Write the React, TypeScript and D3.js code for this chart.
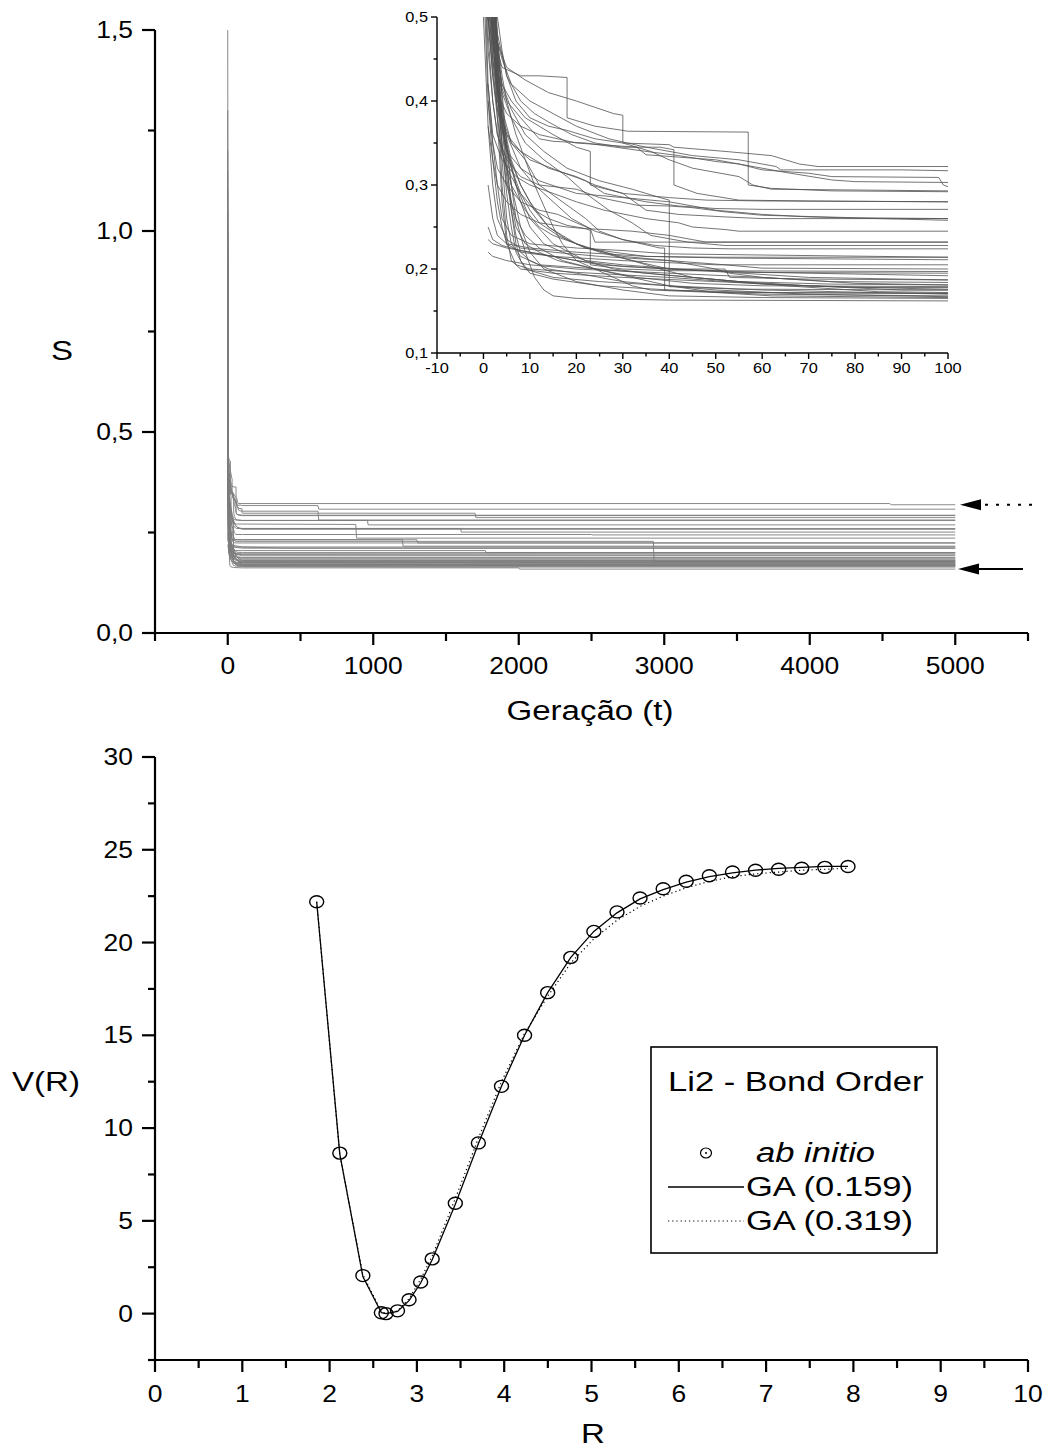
import React from 'react';
import * as d3 from 'd3';

// ---------------- Top chart data ----------------
const S_MAJOR = [0, 0.5, 1.0, 1.5];
const S_MINOR = [0.25, 0.75, 1.25];
const T_MAJOR = [0, 1000, 2000, 3000, 4000, 5000];
const T_MINOR = [-500, 500, 1500, 2500, 3500, 4500, 5500];
const IN_T_MAJOR = [-10, 0, 10, 20, 30, 40, 50, 60, 70, 80, 90, 100];
const IN_T_MINOR = [-5, 5, 15, 25, 35, 45, 55, 65, 75, 85, 95];
const IN_S_MAJOR = [0.1, 0.2, 0.3, 0.4, 0.5];
const IN_S_MINOR = [0.15, 0.25, 0.35, 0.45];
const T_END = 5000;
const ARROW_DASHED = 0.319;
const ARROW_SOLID = 0.159;

// each run: flat list of breakpoints t,S,t,S,...
const RUNS: number[][] = [
  [0,1.5, 1,0.7, 2,0.52, 3,0.47, 5,0.44, 9,0.425, 14,0.41, 20,0.4, 28,0.385, 30,0.383, 30,0.35, 40,0.348, 41,0.345, 52,0.34, 62,0.335, 65,0.33, 68,0.325, 72,0.322, 4550,0.322, 4560,0.319],
  [0,0.95, 1,0.62, 2,0.51, 3,0.46, 4,0.44, 8,0.43, 12,0.43, 18,0.428, 18,0.38, 24,0.37, 30,0.365, 31,0.364, 57,0.363, 57,0.3, 62,0.296, 75,0.293, 100,0.292],
  [0,0.85, 1,0.58, 2,0.49, 4,0.45, 6,0.42, 10,0.4, 15,0.385, 20,0.37, 27,0.355, 35,0.345, 45,0.335, 55,0.33, 60,0.325, 63,0.322, 64,0.318, 90,0.318, 100,0.317, 620,0.317, 625,0.308],
  [0,0.8, 1,0.55, 2,0.47, 3,0.43, 5,0.4, 8,0.38, 12,0.355, 15,0.352, 22,0.35, 35,0.34, 42,0.335, 50,0.328, 55,0.325, 60,0.318, 70,0.314, 75,0.31, 98,0.309, 99,0.3, 100,0.298, 1700,0.298, 1705,0.287],
  [0,0.75, 1,0.52, 2,0.45, 3,0.41, 5,0.385, 8,0.37, 12,0.36, 20,0.35, 33,0.345, 35,0.336, 50,0.33, 65,0.315, 75,0.306, 80,0.304, 100,0.303, 620,0.303, 625,0.281],
  [0,0.7, 1,0.5, 2,0.43, 3,0.39, 5,0.36, 8,0.34, 14,0.32, 20,0.31, 24,0.3, 30,0.29, 40,0.285, 48,0.282, 60,0.281, 100,0.28, 960,0.28, 965,0.269],
  [0,0.9, 1,0.6, 2,0.48, 3,0.42, 4,0.38, 6,0.35, 10,0.33, 17,0.315, 22,0.305, 26,0.29, 35,0.28, 42,0.275, 50,0.272, 60,0.271, 100,0.271, 880,0.27, 885,0.236],
  [0,1.1, 1,0.66, 2,0.5, 3,0.42, 4,0.37, 5,0.34, 8,0.32, 12,0.305, 20,0.29, 30,0.285, 40,0.28, 50,0.27, 60,0.265, 70,0.262, 85,0.26, 100,0.258],
  [0,0.65, 1,0.48, 2,0.4, 3,0.36, 5,0.33, 8,0.31, 12,0.3, 20,0.295, 25,0.285, 33,0.276, 40,0.275, 45,0.273, 52,0.268, 60,0.264, 80,0.261, 100,0.26, 1600,0.26, 1605,0.251],
  [0,0.6, 1,0.42, 2,0.36, 4,0.33, 7,0.31, 10,0.3, 15,0.29, 20,0.28, 26,0.27, 35,0.26, 42,0.255, 45,0.25, 52,0.247, 55,0.245, 100,0.245, 2500,0.245, 2505,0.244],
  [0,0.55, 1,0.4, 2,0.35, 3,0.32, 5,0.3, 8,0.28, 12,0.27, 16,0.265, 20,0.255, 23,0.248, 24,0.232, 35,0.232, 100,0.232, 1200,0.232, 1205,0.216],
  [0,0.5, 1,0.37, 2,0.33, 3,0.3, 5,0.28, 8,0.265, 12,0.255, 18,0.25, 22,0.248, 23,0.246, 23,0.205, 30,0.2, 40,0.198, 100,0.197],
  [1,0.42, 2,0.35, 3,0.3, 4,0.26, 6,0.24, 10,0.23, 20,0.225, 30,0.222, 40,0.218, 100,0.214, 400,0.211],
  [1,0.4, 2,0.33, 3,0.28, 4,0.25, 5,0.23, 8,0.22, 15,0.215, 30,0.21, 50,0.205, 100,0.205, 1770,0.205, 1775,0.2],
  [1,0.37, 2,0.3, 3,0.26, 5,0.235, 8,0.225, 15,0.22, 25,0.215, 40,0.21, 52,0.205, 60,0.201, 100,0.2],
  [1,0.3, 2,0.26, 3,0.24, 5,0.23, 10,0.225, 20,0.22, 35,0.215, 52,0.213, 100,0.211],
  [1,0.25, 2,0.235, 4,0.228, 8,0.222, 15,0.215, 25,0.205, 40,0.2, 60,0.196, 100,0.192],
  [1,0.235, 2,0.23, 5,0.225, 10,0.22, 20,0.21, 30,0.203, 50,0.197, 70,0.19, 100,0.187],
  [1,0.22, 2,0.215, 5,0.21, 10,0.205, 20,0.2, 40,0.195, 60,0.19, 80,0.183, 100,0.181],
  [0,1.0, 1,0.7, 2,0.55, 3,0.42, 4,0.3, 5,0.24, 6,0.21, 8,0.2, 15,0.195, 30,0.19, 50,0.185, 70,0.18, 90,0.175, 100,0.175, 3000,0.174],
  [0,0.9, 1,0.68, 2,0.5, 3,0.38, 4,0.28, 5,0.23, 7,0.205, 10,0.2, 20,0.196, 40,0.19, 60,0.182, 80,0.178, 100,0.178],
  [0,1.2, 1,0.8, 2,0.6, 3,0.45, 4,0.33, 5,0.26, 6,0.23, 8,0.215, 12,0.205, 25,0.2, 45,0.19, 65,0.18, 85,0.173, 100,0.172],
  [0,0.85, 1,0.62, 2,0.52, 3,0.44, 4,0.35, 5,0.29, 6,0.25, 7,0.22, 9,0.2, 15,0.19, 25,0.185, 40,0.18, 60,0.175, 100,0.17, 2200,0.169],
  [0,1.3, 1,0.75, 2,0.58, 3,0.48, 4,0.4, 5,0.33, 6,0.27, 7,0.23, 8,0.21, 10,0.195, 15,0.188, 25,0.18, 40,0.175, 60,0.17, 100,0.168],
  [0,0.95, 1,0.66, 2,0.54, 3,0.46, 4,0.38, 6,0.3, 8,0.25, 10,0.22, 13,0.2, 20,0.185, 30,0.175, 40,0.168, 60,0.166, 100,0.165, 1400,0.164],
  [0,1.05, 1,0.72, 2,0.56, 3,0.47, 4,0.41, 5,0.35, 6,0.3, 7,0.26, 9,0.22, 11,0.19, 13,0.175, 15,0.168, 20,0.165, 40,0.163, 100,0.162, 2000,0.162, 2005,0.159],
  [0,0.8, 1,0.6, 2,0.5, 3,0.43, 5,0.35, 7,0.3, 10,0.26, 15,0.23, 22,0.21, 28,0.2, 35,0.195, 45,0.19, 55,0.185, 70,0.18, 90,0.177, 100,0.176],
  [0,0.78, 1,0.58, 2,0.48, 3,0.41, 4,0.37, 6,0.32, 8,0.29, 10,0.27, 12,0.255, 16,0.24, 22,0.225, 30,0.215, 40,0.21, 50,0.2, 53,0.195, 60,0.19, 75,0.185, 100,0.184],
  [0,0.7, 1,0.55, 2,0.47, 3,0.42, 4,0.39, 6,0.35, 9,0.33, 12,0.3, 17,0.28, 22,0.26, 25,0.245, 30,0.235, 38,0.225, 39,0.225, 39,0.175, 60,0.172, 100,0.171],
  [0,0.88, 1,0.64, 2,0.53, 3,0.46, 4,0.42, 6,0.39, 9,0.36, 13,0.34, 18,0.32, 25,0.305, 32,0.295, 38,0.285, 40,0.282, 40,0.179, 55,0.176, 100,0.175],
  [0,0.92, 1,0.65, 2,0.54, 3,0.48, 5,0.43, 8,0.4, 11,0.385, 14,0.375, 19,0.36, 24,0.35, 30,0.345, 38,0.345, 41,0.342, 41,0.3, 46,0.29, 55,0.282, 70,0.281, 100,0.28],
  [0,0.82, 1,0.6, 2,0.5, 3,0.45, 4,0.42, 6,0.4, 9,0.38, 12,0.37, 15,0.36, 20,0.345, 23,0.34, 23,0.3, 30,0.29, 35,0.27, 42,0.265, 52,0.262, 60,0.26, 100,0.26],
  [0,0.76, 1,0.57, 2,0.49, 3,0.44, 4,0.41, 6,0.38, 9,0.35, 13,0.33, 18,0.31, 22,0.29, 27,0.27, 32,0.255, 36,0.24, 44,0.232, 52,0.228, 100,0.228, 2925,0.228, 2930,0.177],
  [0,0.68, 1,0.52, 2,0.45, 3,0.4, 5,0.36, 8,0.32, 11,0.3, 15,0.28, 19,0.26, 24,0.245, 30,0.235, 37,0.228, 45,0.225, 53,0.224, 100,0.224],
  [0,0.6, 1,0.5, 2,0.44, 3,0.39, 5,0.34, 8,0.3, 11,0.27, 14,0.25, 18,0.235, 22,0.225, 28,0.22, 35,0.215, 50,0.214, 100,0.214],
  [0,0.72, 1,0.56, 2,0.47, 3,0.42, 4,0.38, 6,0.33, 8,0.3, 10,0.28, 12,0.265, 14,0.25, 17,0.24, 20,0.23, 25,0.22, 32,0.21, 40,0.2, 52,0.2, 53,0.19, 70,0.188, 100,0.187],
  [0,0.66, 1,0.53, 2,0.46, 3,0.41, 4,0.37, 6,0.32, 8,0.28, 10,0.25, 13,0.23, 17,0.22, 22,0.21, 30,0.205, 42,0.2, 55,0.196, 100,0.195, 2600,0.194],
  [0,1.15, 1,0.74, 2,0.56, 3,0.46, 4,0.38, 5,0.32, 6,0.28, 7,0.25, 9,0.23, 12,0.22, 16,0.21, 24,0.2, 33,0.19, 45,0.183, 60,0.18, 100,0.179],
  [0,0.98, 1,0.7, 2,0.55, 3,0.45, 4,0.37, 5,0.31, 6,0.27, 7,0.24, 8,0.22, 10,0.21, 14,0.2, 20,0.195, 30,0.185, 50,0.175, 70,0.17, 100,0.167],
  [0,0.86, 1,0.63, 2,0.5, 3,0.41, 4,0.35, 5,0.3, 7,0.26, 9,0.24, 12,0.225, 17,0.21, 24,0.2, 32,0.19, 40,0.18, 50,0.172, 62,0.168, 100,0.166],
  [0,0.74, 1,0.6, 2,0.52, 3,0.47, 4,0.43, 5,0.4, 7,0.36, 9,0.33, 11,0.3, 13,0.275, 15,0.25, 17,0.23, 20,0.21, 24,0.2, 28,0.19, 32,0.18, 36,0.175, 50,0.172, 100,0.171],
  [0,0.64, 1,0.5, 2,0.43, 3,0.38, 4,0.34, 6,0.3, 9,0.27, 12,0.25, 15,0.24, 20,0.23, 26,0.22, 32,0.21, 38,0.2, 45,0.19, 55,0.185, 75,0.182, 100,0.181],
  [0,0.58, 1,0.46, 2,0.4, 3,0.36, 5,0.32, 8,0.29, 11,0.27, 14,0.26, 18,0.252, 22,0.248, 26,0.247, 32,0.245, 40,0.24, 45,0.235, 48,0.232, 100,0.232, 1300,0.232, 1305,0.224],
  [0,1.0, 1,0.71, 2,0.57, 3,0.5, 4,0.46, 5,0.43, 7,0.4, 10,0.38, 14,0.37, 18,0.365, 24,0.355, 30,0.35, 36,0.34, 40,0.33, 45,0.32, 55,0.31, 58,0.3, 62,0.295, 100,0.293],
];

// ---------------- Bottom chart data ----------------
const R_MAJOR = [0, 1, 2, 3, 4, 5, 6, 7, 8, 9, 10];
const R_MINOR = [0.5, 1.5, 2.5, 3.5, 4.5, 5.5, 6.5, 7.5, 8.5, 9.5];
const V_MAJOR = [0, 5, 10, 15, 20, 25, 30];
const V_MINOR = [-2.5, 2.5, 7.5, 12.5, 17.5, 22.5, 27.5];
const R_VALUES = [1.852, 2.117, 2.381, 2.593, 2.646, 2.778, 2.910, 3.043, 3.175, 3.440, 3.704, 3.969, 4.233, 4.498, 4.763, 5.027, 5.292, 5.556, 5.821, 6.085, 6.350, 6.615, 6.879, 7.144, 7.408, 7.673, 7.938];
const V_AB_INITIO = [22.2, 8.65, 2.05, 0.05, 0.0, 0.15, 0.75, 1.7, 2.95, 5.95, 9.2, 12.25, 15.0, 17.3, 19.2, 20.6, 21.65, 22.4, 22.9, 23.3, 23.6, 23.8, 23.9, 23.95, 24.0, 24.05, 24.1];
const V_GA_159 = [22.2, 8.6, 2.0, 0.05, 0.0, 0.12, 0.7, 1.65, 2.9, 5.9, 9.15, 12.25, 15.0, 17.3, 19.2, 20.6, 21.6, 22.35, 22.85, 23.25, 23.55, 23.75, 23.9, 24.0, 24.05, 24.1, 24.1];
const V_GA_319 = [22.2, 8.55, 2.1, 0.1, 0.0, 0.15, 0.8, 1.85, 3.1, 6.2, 9.45, 12.5, 15.1, 17.1, 18.9, 20.2, 21.2, 21.95, 22.5, 22.95, 23.3, 23.55, 23.7, 23.8, 23.9, 23.95, 24.0];
const LEGEND_TITLE = 'Li2 - Bond Order';
const LEGEND_ITEMS = ['ab initio', 'GA (0.159)', 'GA (0.319)'];

const FONT = "'Liberation Sans', Arial, Helvetica, sans-serif";

function Txt(props: { x: number; y: number; size: number; sx?: number; anchor?: string; italic?: boolean; children: any }) {
  const { x, y, size, sx = 1, anchor = 'middle', italic = false, children } = props;
  return (
    <text transform={`translate(${x},${y}) scale(${sx},1)`} fontSize={size} textAnchor={anchor}
      fontFamily={FONT} fontStyle={italic ? 'italic' : 'normal'} fill="#000">{children}</text>
  );
}

const comma = (v: number) => d3.format('.1f')(v).replace('.', ',');

function toPairs(flat: number[]): [number, number][] {
  const out: [number, number][] = [];
  for (let i = 0; i < flat.length; i += 2) out.push([flat[i], flat[i + 1]]);
  const last = out[out.length - 1];
  if (last[0] < T_END) out.push([T_END, last[1]]);
  return out;
}

export default function App() {
  const W = 1050, H = 1452;
  const xT = d3.scaleLinear().domain([-500, 5500]).range([155, 1028]);
  const yS = d3.scaleLinear().domain([0, 1.5]).range([633, 30]);
  const xI = d3.scaleLinear().domain([-10, 100]).range([437, 948]);
  const yI = d3.scaleLinear().domain([0.1, 0.5]).range([353, 17]);
  const xR = d3.scaleLinear().domain([0, 10]).range([155, 1028]);
  const yV = d3.scaleLinear().domain([-2.5, 30]).range([1360, 757]);

  const runs = RUNS.map(toPairs);
  const lineMain = d3.line<[number, number]>().x(d => xT(d[0])).y(d => yS(d[1]));
  const lineInset = d3.line<[number, number]>().x(d => xI(d[0])).y(d => yI(d[1]));

  const abPts = R_VALUES.map((r, i) => [r, V_AB_INITIO[i]] as [number, number]);
  const ga1 = R_VALUES.map((r, i) => [r, V_GA_159[i]] as [number, number]);
  const ga2 = R_VALUES.map((r, i) => [r, V_GA_319[i]] as [number, number]);
  const lineV = d3.line<[number, number]>().x(d => xR(d[0])).y(d => yV(d[1]));

  const tickSize = 23, tickSx = 1.15;
  const titleSize = 28, titleSx = 1.18;
  const legSize = 27, legSx = 1.28;

  return (
    <svg width={W} height={H} style={{ position: 'absolute', left: 0, top: 0, background: '#fff' }}>
      <rect x={0} y={0} width={W} height={H} fill="#fff" />
      <defs>
        <clipPath id="insetClip">
          <rect x={xI(-10)} y={yI(0.5)} width={xI(100) - xI(-10)} height={yI(0.1) - yI(0.5)} />
        </clipPath>
      </defs>

      {/* ===== Top main chart lines ===== */}
      <g fill="none" stroke="#7c7c7c" strokeWidth={0.9}>
        {runs.map((r, i) => <path key={i} d={lineMain(r) || ''} />)}
      </g>

      <g stroke="#000" strokeWidth={2.2} fill="none">
        <line x1={xT(-500)} x2={xT(-500)} y1={yS(0)} y2={yS(1.5)} />
        <line x1={xT(-500)} x2={xT(5500)} y1={yS(0)} y2={yS(0)} />
        {S_MAJOR.map(v => <line key={'sm' + v} x1={xT(-500) - 13} x2={xT(-500)} y1={yS(v)} y2={yS(v)} />)}
        {S_MINOR.map(v => <line key={'sn' + v} x1={xT(-500) - 7} x2={xT(-500)} y1={yS(v)} y2={yS(v)} />)}
        {T_MAJOR.map(v => <line key={'tm' + v} x1={xT(v)} x2={xT(v)} y1={yS(0)} y2={yS(0) + 12} />)}
        {T_MINOR.map(v => <line key={'tn' + v} x1={xT(v)} x2={xT(v)} y1={yS(0)} y2={yS(0) + 8} />)}
      </g>
      {S_MAJOR.map(v => <Txt key={'sl' + v} x={xT(-500) - 22} y={yS(v) + 8} size={tickSize} sx={tickSx} anchor="end">{comma(v)}</Txt>)}
      {T_MAJOR.map(v => <Txt key={'tl' + v} x={xT(v)} y={yS(0) + 41} size={tickSize} sx={tickSx}>{String(v)}</Txt>)}
      <Txt x={62} y={360} size={titleSize} sx={titleSx}>S</Txt>
      <Txt x={590} y={720} size={titleSize} sx={titleSx}>Geração (t)</Txt>

      {/* arrows */}
      <g>
        <line x1={1032} x2={979} y1={yS(ARROW_DASHED)} y2={yS(ARROW_DASHED)} stroke="#000" strokeWidth={2} strokeDasharray="3,8" />
        <polygon points={`${960},${yS(ARROW_DASHED)} ${981},${yS(ARROW_DASHED) - 5.5} ${981},${yS(ARROW_DASHED) + 5.5}`} fill="#000" />
        <line x1={1023} x2={976} y1={yS(ARROW_SOLID)} y2={yS(ARROW_SOLID)} stroke="#000" strokeWidth={2} />
        <polygon points={`${958},${yS(ARROW_SOLID)} ${979},${yS(ARROW_SOLID) - 5.5} ${979},${yS(ARROW_SOLID) + 5.5}`} fill="#000" />
      </g>

      {/* ===== Inset ===== */}
      <g clipPath="url(#insetClip)" fill="none" stroke="#505050" strokeWidth={0.8}>
        {runs.map((r, i) => <path key={i} d={lineInset(r) || ''} />)}
      </g>
      <g stroke="#000" strokeWidth={1.4} fill="none">
        <line x1={xI(-10)} x2={xI(-10)} y1={yI(0.1)} y2={yI(0.5)} />
        <line x1={xI(-10)} x2={xI(100)} y1={yI(0.1)} y2={yI(0.1)} />
        {IN_S_MAJOR.map(v => <line key={'im' + v} x1={xI(-10) - 6} x2={xI(-10)} y1={yI(v)} y2={yI(v)} />)}
        {IN_S_MINOR.map(v => <line key={'in' + v} x1={xI(-10) - 3.5} x2={xI(-10)} y1={yI(v)} y2={yI(v)} />)}
        {IN_T_MAJOR.map(v => <line key={'it' + v} x1={xI(v)} x2={xI(v)} y1={yI(0.1)} y2={yI(0.1) + 6} />)}
        {IN_T_MINOR.map(v => <line key={'iu' + v} x1={xI(v)} x2={xI(v)} y1={yI(0.1)} y2={yI(0.1) + 3.5} />)}
      </g>
      {IN_S_MAJOR.map(v => <Txt key={'isl' + v} x={xI(-10) - 9} y={yI(v) + 5} size={14} sx={1.17} anchor="end">{comma(v)}</Txt>)}
      {IN_T_MAJOR.map(v => <Txt key={'itl' + v} x={xI(v)} y={yI(0.1) + 20} size={14} sx={1.17}>{String(v)}</Txt>)}

      {/* ===== Bottom chart ===== */}
      <path d={lineV(ga2) || ''} fill="none" stroke="#000" strokeWidth={1.2} strokeDasharray="1.2,3" />
      <path d={lineV(ga1) || ''} fill="none" stroke="#000" strokeWidth={1.3} />
      <g fill="none" stroke="#000" strokeWidth={1.4}>
        {abPts.map((p, i) => <ellipse key={i} cx={xR(p[0])} cy={yV(p[1])} rx={7} ry={6} />)}
      </g>

      <g stroke="#000" strokeWidth={2.2} fill="none">
        <line x1={xR(0)} x2={xR(0)} y1={yV(-2.5)} y2={yV(30)} />
        <line x1={xR(0)} x2={xR(10)} y1={yV(-2.5)} y2={yV(-2.5)} />
        {V_MAJOR.map(v => <line key={'vm' + v} x1={xR(0) - 13} x2={xR(0)} y1={yV(v)} y2={yV(v)} />)}
        {V_MINOR.map(v => <line key={'vn' + v} x1={xR(0) - 7} x2={xR(0)} y1={yV(v)} y2={yV(v)} />)}
        {R_MAJOR.map(v => <line key={'rm' + v} x1={xR(v)} x2={xR(v)} y1={yV(-2.5)} y2={yV(-2.5) + 12} />)}
        {R_MINOR.map(v => <line key={'rn' + v} x1={xR(v)} x2={xR(v)} y1={yV(-2.5)} y2={yV(-2.5) + 8} />)}
      </g>
      {V_MAJOR.map(v => <Txt key={'vl' + v} x={xR(0) - 22} y={yV(v) + 8} size={tickSize} sx={tickSx} anchor="end">{String(v)}</Txt>)}
      {R_MAJOR.map(v => <Txt key={'rl' + v} x={xR(v)} y={yV(-2.5) + 42} size={tickSize} sx={tickSx}>{String(v)}</Txt>)}
      <Txt x={46} y={1091} size={titleSize} sx={titleSx}>V(R)</Txt>
      <Txt x={593} y={1443} size={titleSize} sx={titleSx}>R</Txt>

      {/* legend */}
      <rect x={651} y={1047} width={286} height={206} fill="#fff" stroke="#000" strokeWidth={1.6} />
      <Txt x={668} y={1091} size={legSize} sx={legSx} anchor="start">{LEGEND_TITLE}</Txt>
      <ellipse cx={706} cy={1153} rx={5.5} ry={5} fill="none" stroke="#000" strokeWidth={1.2} />
      <circle cx={706} cy={1153} r={1} fill="#000" />
      <Txt x={756} y={1162} size={legSize} sx={legSx} anchor="start" italic>{LEGEND_ITEMS[0]}</Txt>
      <line x1={668} x2={744} y1={1187} y2={1187} stroke="#000" strokeWidth={1.3} />
      <Txt x={746} y={1196} size={legSize} sx={legSx} anchor="start">{LEGEND_ITEMS[1]}</Txt>
      <line x1={668} x2={744} y1={1221} y2={1221} stroke="#000" strokeWidth={1.2} strokeDasharray="1.2,3" />
      <Txt x={746} y={1230} size={legSize} sx={legSx} anchor="start">{LEGEND_ITEMS[2]}</Txt>
    </svg>
  );
}
